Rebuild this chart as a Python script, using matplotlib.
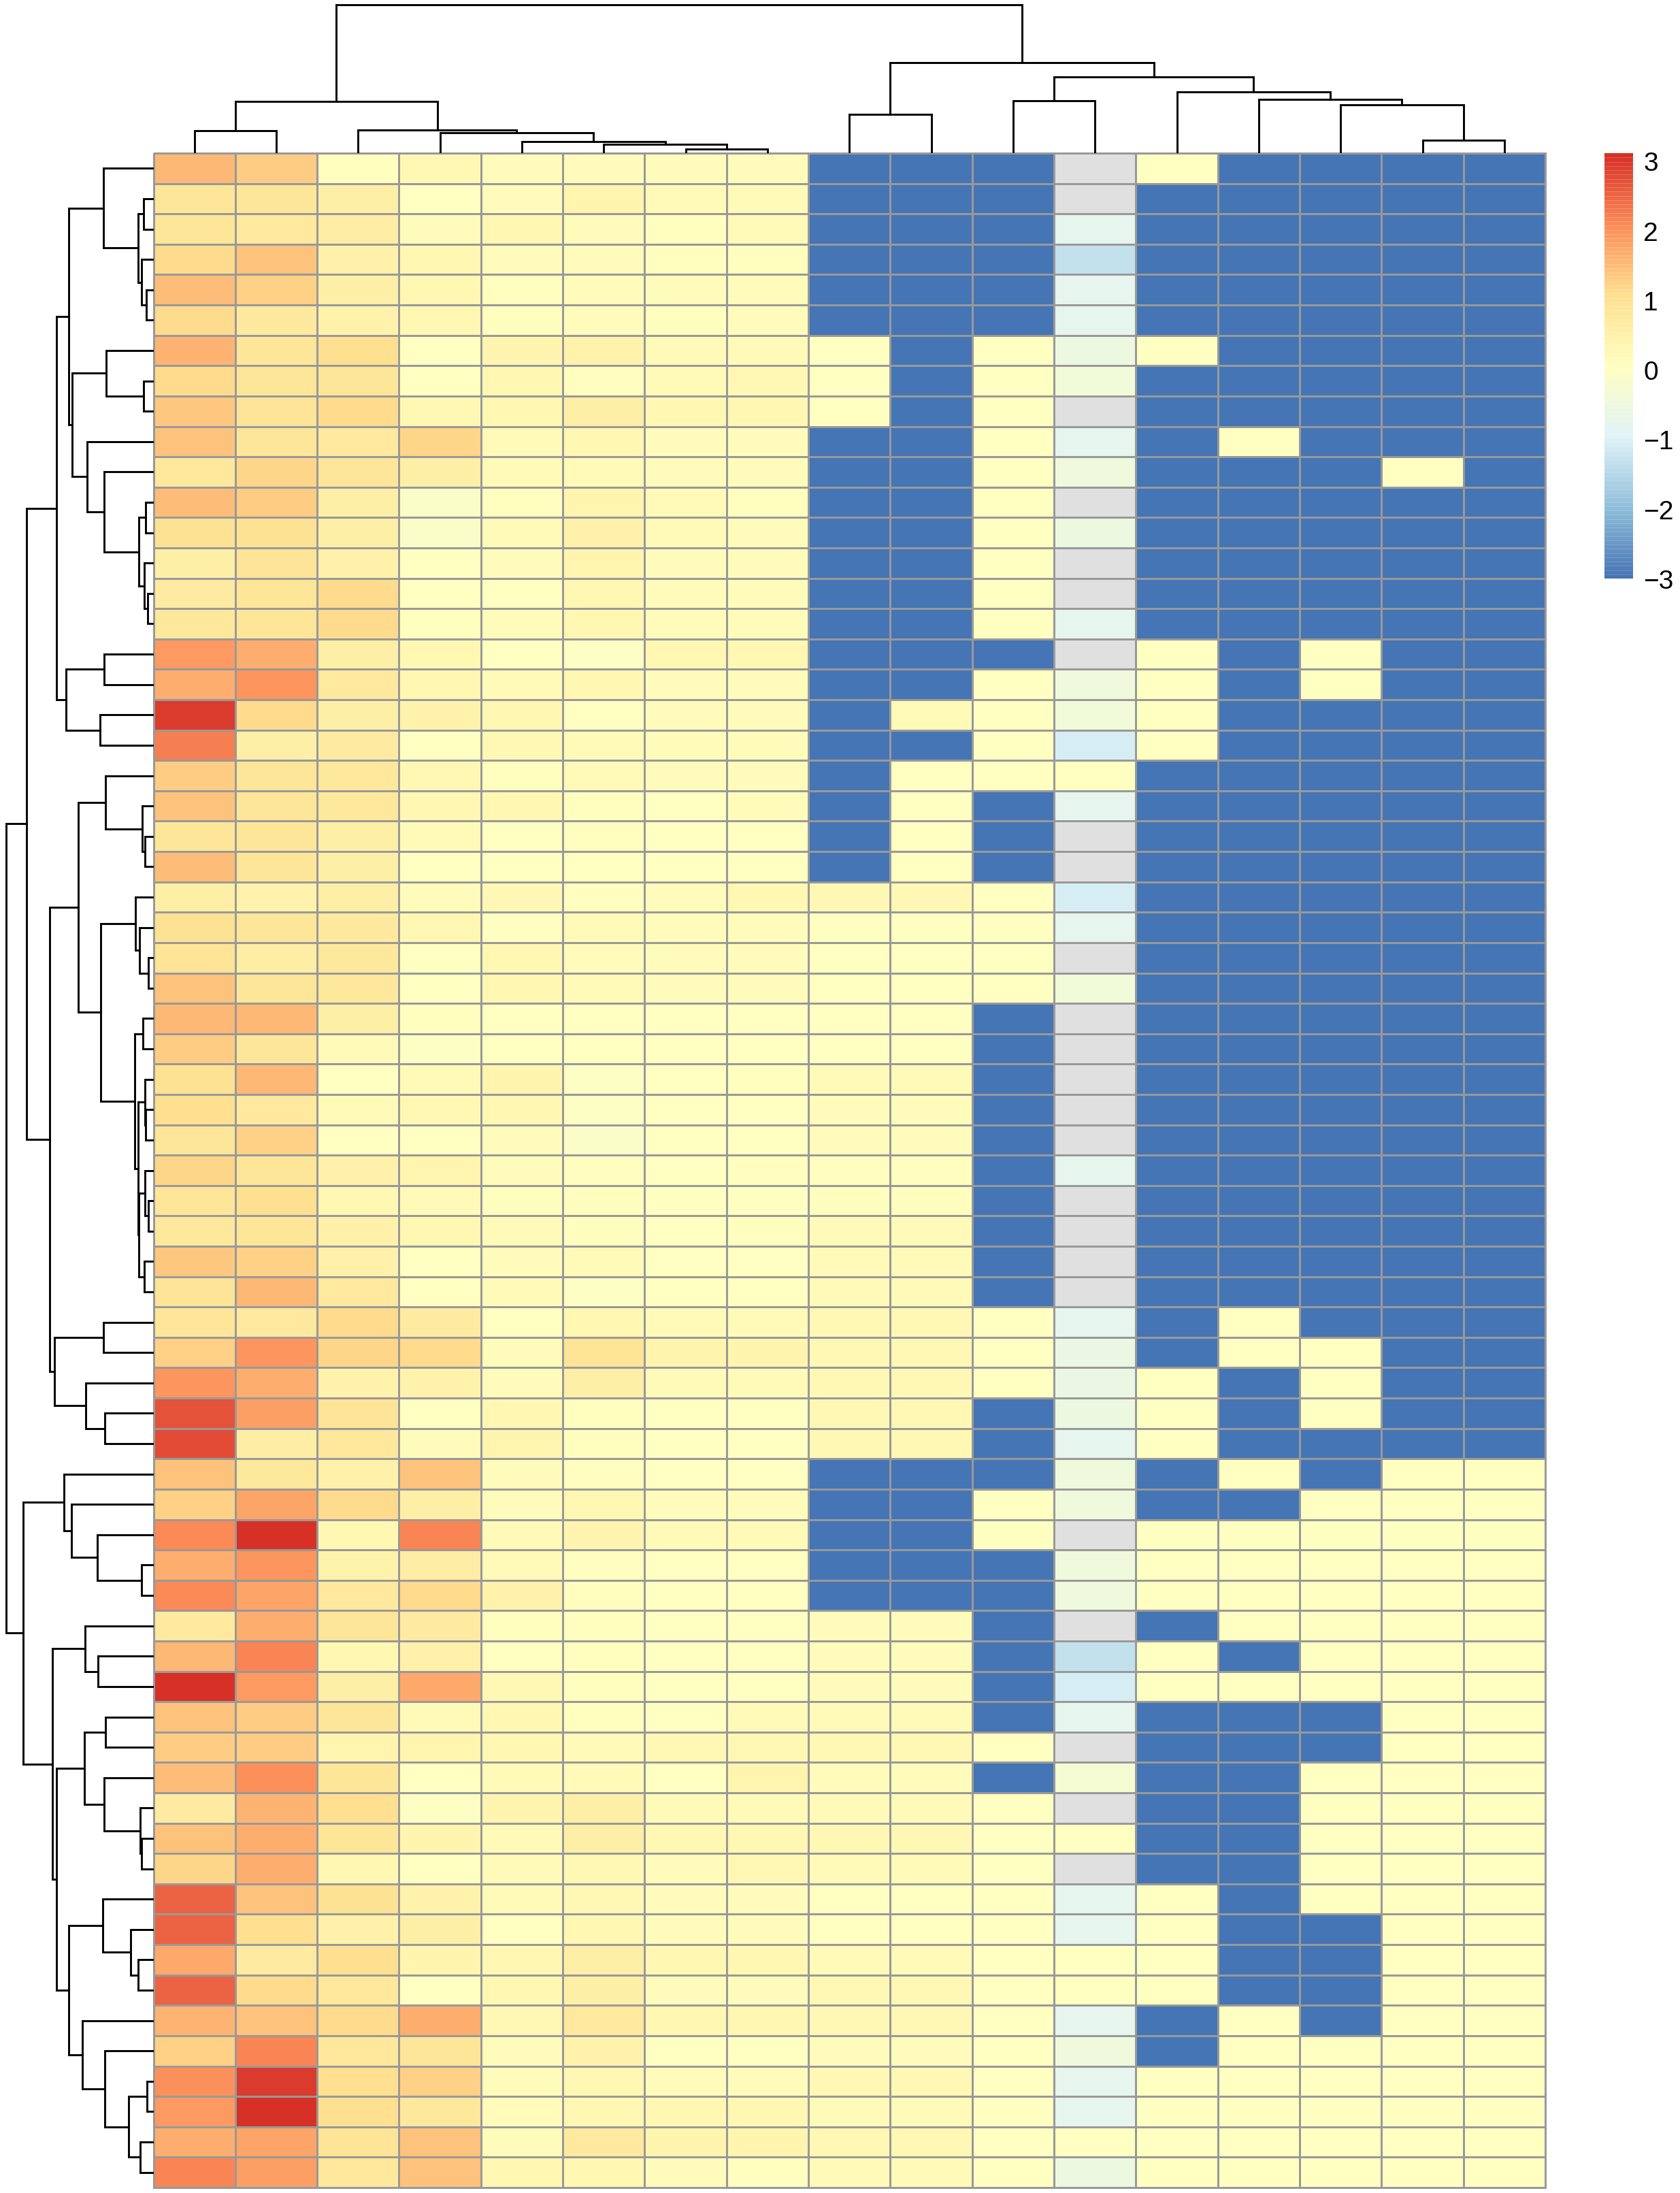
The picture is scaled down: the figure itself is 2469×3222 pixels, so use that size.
import numpy as np
import matplotlib
matplotlib.use("Agg")
import matplotlib.pyplot as plt
from matplotlib.colors import LinearSegmentedColormap, Normalize

plt.rcParams["font.family"] = ["Liberation Sans", "DejaVu Sans"]

W, H = 2469, 3223
nan = float("nan")

# columns 1-8, one line per row
left_block = [
    [1.55, 1.3, 0.1, 0.25, 0.15, 0.12, 0.12, 0.12],
    [0.9, 0.85, 0.55, 0.05, 0.12, 0.4, 0.2, 0.2],
    [0.85, 0.75, 0.65, 0.12, 0.35, 0.12, 0.1, 0.2],
    [1.1, 1.45, 0.5, 0.3, 0.12, 0.12, 0.1, 0.1],
    [1.5, 1.25, 0.55, 0.35, 0.1, 0.12, 0.12, 0.12],
    [1.1, 0.75, 0.45, 0.3, 0.1, 0.12, 0.1, 0.12],
    [1.6, 0.9, 1.05, 0.05, 0.4, 0.45, 0.2, 0.2],
    [1.15, 0.9, 0.9, 0.05, 0.35, 0.1, 0.18, 0.25],
    [1.35, 0.95, 1.15, 0.25, 0.35, 0.55, 0.3, 0.3],
    [1.45, 0.9, 0.75, 1.2, 0.18, 0.3, 0.15, 0.15],
    [0.8, 1.2, 0.85, 0.55, 0.2, 0.2, 0.12, 0.12],
    [1.5, 1.3, 0.6, -0.1, 0.08, 0.4, 0.18, 0.08],
    [1.0, 1.0, 0.6, -0.1, 0.2, 0.5, 0.18, 0.12],
    [0.6, 0.95, 0.5, 0.05, 0.15, 0.4, 0.15, 0.12],
    [0.7, 0.9, 1.1, 0.03, 0.03, 0.35, 0.15, 0.12],
    [0.8, 0.9, 1.1, 0.1, 0.15, 0.3, 0.15, 0.12],
    [1.9, 1.7, 0.55, 0.3, 0.05, -0.05, 0.35, 0.35],
    [1.7, 1.95, 0.75, 0.35, 0.2, 0.35, 0.15, 0.15],
    [2.95, 1.15, 0.55, 0.45, 0.3, 0.05, 0.15, 0.15],
    [2.25, 0.55, 0.7, 0.03, 0.25, 0.2, 0.15, 0.15],
    [1.3, 0.9, 0.8, 0.25, 0.08, 0.2, 0.15, 0.15],
    [1.4, 0.9, 0.8, 0.35, 0.3, 0.08, 0.05, 0.15],
    [0.9, 0.85, 0.6, 0.2, 0.05, 0.08, 0.05, 0.05],
    [1.5, 0.9, 0.55, 0.05, 0.03, 0.05, 0.03, 0.05],
    [0.55, 0.45, 0.6, 0.12, 0.25, 0.1, 0.12, 0.3],
    [1.0, 0.85, 0.75, 0.35, 0.03, 0.2, 0.15, 0.12],
    [0.95, 0.65, 0.8, 0.0, 0.3, 0.15, 0.15, 0.12],
    [1.4, 0.9, 0.8, 0.05, 0.3, 0.2, 0.15, 0.12],
    [1.55, 1.55, 0.6, 0.08, 0.05, 0.05, 0.05, 0.05],
    [1.3, 0.85, 0.2, -0.05, 0.05, 0.05, 0.05, 0.03],
    [1.0, 1.55, 0.05, 0.2, 0.4, -0.05, 0.05, 0.1],
    [1.05, 0.75, 0.2, 0.25, 0.3, -0.05, 0.05, 0.05],
    [0.85, 1.25, 0.0, 0.05, 0.15, -0.08, 0.05, 0.05],
    [1.2, 0.85, 0.5, 0.4, 0.12, 0.08, 0.05, 0.1],
    [0.85, 1.05, 0.3, 0.2, 0.1, 0.08, 0.05, 0.05],
    [0.8, 0.85, 0.5, 0.35, 0.2, 0.08, 0.05, 0.1],
    [1.35, 1.25, 0.5, 0.03, 0.15, 0.2, 0.05, 0.05],
    [0.95, 1.55, 0.75, 0.03, 0.2, -0.03, 0.05, 0.05],
    [0.9, 0.75, 1.15, 0.7, 0.0, 0.3, 0.2, 0.2],
    [1.25, 1.95, 1.2, 1.15, 0.15, 0.95, 0.4, 0.4],
    [2.0, 1.65, 0.45, 0.45, 0.15, 0.55, 0.2, 0.2],
    [2.7, 1.85, 0.95, 0.0, 0.35, 0.1, 0.05, 0.05],
    [2.8, 0.65, 0.8, 0.15, 0.4, 0.08, 0.05, 0.05],
    [1.45, 0.8, 0.5, 1.45, 0.15, 0.1, 0.05, 0.03],
    [1.25, 1.8, 1.1, 0.55, 0.15, 0.3, 0.15, 0.15],
    [2.1, 3.1, 0.3, 2.15, 0.2, 0.4, 0.2, 0.2],
    [1.7, 1.95, 0.45, 0.65, 0.18, 0.08, 0.05, 0.05],
    [2.1, 1.8, 0.75, 1.15, 0.45, 0.08, 0.05, 0.05],
    [0.75, 1.7, 0.85, 0.7, 0.1, 0.1, 0.05, 0.05],
    [1.55, 2.15, 0.35, 0.5, 0.03, 0.08, 0.05, 0.05],
    [3.1, 1.9, 0.6, 1.75, 0.25, 0.08, 0.05, 0.05],
    [1.4, 1.3, 0.85, 0.2, 0.3, 0.08, 0.05, 0.2],
    [1.3, 1.3, 0.4, 0.4, 0.35, 0.2, 0.25, 0.25],
    [1.5, 2.05, 0.85, 0.0, 0.2, 0.2, 0.05, 0.4],
    [0.7, 1.6, 1.05, -0.05, 0.4, 0.6, 0.2, 0.2],
    [1.45, 1.65, 0.9, 0.4, 0.2, 0.55, 0.3, 0.3],
    [1.2, 1.7, 0.3, 0.03, 0.2, 0.25, 0.15, 0.25],
    [2.55, 1.4, 1.0, 0.45, 0.2, 0.25, 0.15, 0.15],
    [2.55, 1.05, 0.5, 0.6, 0.03, 0.35, 0.15, 0.15],
    [1.75, 0.7, 1.05, 0.4, 0.3, 0.6, 0.3, 0.3],
    [2.55, 1.15, 0.8, 0.03, 0.3, 0.55, 0.15, 0.15],
    [1.6, 1.45, 1.15, 1.7, 0.25, 0.75, 0.35, 0.35],
    [1.25, 2.15, 0.8, 0.85, 0.15, 0.45, 0.05, 0.05],
    [2.05, 2.95, 1.05, 1.25, 0.12, 0.35, 0.12, 0.12],
    [1.9, 3.1, 1.05, 0.8, 0.15, 0.3, 0.3, 0.3],
    [1.7, 1.8, 0.95, 1.45, 0.12, 0.75, 0.4, 0.4],
    [2.15, 1.85, 0.8, 1.45, 0.35, 0.35, 0.15, 0.1],
]

# columns 9 and 10 (-3 is the clipped blue)
col9 = [-3, -3, -3, -3, -3, -3, 0.05, 0.05, 0.05, -3, -3, -3, -3, -3, -3, -3,
        -3, -3, -3, -3, -3, -3, -3, -3, 0.25, 0.05, 0.05, 0.05, 0.05, 0.05,
        0.2, 0.15, 0.15, 0.1, 0.08, 0.2, 0.2, 0.2, 0.25, 0.25, 0.25, 0.25, 0.25,
        -3, -3, -3, -3, -3, 0.15, 0.15, 0.15, 0.2, 0.25, 0.15, 0.2, 0.25, 0.2,
        0.05, 0.05, 0.2, 0.25, 0.25, 0.15, 0.25, 0.2, 0.25, 0.2]
col10 = [-3, -3, -3, -3, -3, -3, -3, -3, -3, -3, -3, -3, -3, -3, -3, -3,
         -3, -3, 0.2, -3, 0.05, 0.05, 0.05, 0.05, 0.25, 0.05, 0.05, 0.05, 0.05, 0.05,
         0.2, 0.15, 0.15, 0.1, 0.08, 0.2, 0.2, 0.2, 0.25, 0.25, 0.25, 0.25, 0.25,
         -3, -3, -3, -3, -3, 0.15, 0.15, 0.15, 0.2, 0.25, 0.15, 0.2, 0.25, 0.2,
         0.05, 0.05, 0.2, 0.25, 0.25, 0.15, 0.25, 0.2, 0.25, 0.2]

# B = -3, Y = 0.05
col11 = ("BBBBBB" "YYYYYYYYYY" "B" "YYYY" "BBB" "YYYY" "BBBBBBBBBB" "YYY" "BB"
         "B" "YY" "BB" "BBBB" "Y" "B" "YYYYYYYYYYYYY")

# column 12 has missing cells (grey)
col12 = [nan, nan, -0.8, -1.35, -0.8, -0.8, -0.5, -0.4, nan, -0.8, -0.45, nan, -0.5,
         nan, nan, -0.8, nan, -0.45, -0.4, -1.05, 0.05, -0.8, nan, nan, -1.05, -0.8,
         nan, -0.4, nan, nan, nan, nan, nan, -0.8, nan, nan, nan, nan, -0.8, -0.6,
         -0.6, -0.5, -0.8, -0.45, -0.45, nan, -0.45, -0.45, nan, -1.35, -1.05, -0.8,
         nan, -0.3, nan, 0.05, nan, -0.8, -0.8, 0.05, 0.05, -0.8, -0.45, -0.8, -0.8,
         0.05, -0.5]

# columns 13-17
right_block = [
    "YBBBB", "BBBBB", "BBBBB", "BBBBB", "BBBBB", "BBBBB", "YBBBB", "BBBBB", "BBBBB",
    "BYBBB", "BBBYB", "BBBBB", "BBBBB", "BBBBB", "BBBBB", "BBBBB", "YBYBB", "YBYBB",
    "YBBBB", "YBBBB", "BBBBB", "BBBBB", "BBBBB", "BBBBB", "BBBBB", "BBBBB", "BBBBB",
    "BBBBB", "BBBBB", "BBBBB", "BBBBB", "BBBBB", "BBBBB", "BBBBB", "BBBBB", "BBBBB",
    "BBBBB", "BBBBB", "BYBBB", "BYYBB", "YBYBB", "YBYBB", "YBBBB", "BYBYY", "BBYYY",
    "YYYYY", "YYYYY", "YYYYY", "BYYYY", "YBYYY", "YYYYY", "BBBYY", "BBBYY", "BBYYY",
    "BBYYY", "BBYYY", "BBYYY", "YBYYY", "YBBYY", "YBBYY", "YBBYY", "BYBYY", "BYYYY",
    "YYYYY", "YYYYY", "YYYYY", "YYYYY",
]

# dendrograms as (height, child, child), an int child is a leaf (1-based)
rows_a = (125, (74, 1, (23, (15, 2, 3), (18, 4, (11, 5, 6)))),
          (120, (70, 7, (15, 8, 9)),
           (98, 10, (73, 11, (22, (12, 12, 13), (14, 14, (9, 15, 16)))))))
rows_b = (129, (73, 17, 18), (79, 19, 20))
rows_c = (111, (71, 21, (17, 22, (13, 23, 24))),
          (78, (27, 25, (21, 26, (8, 27, 28))),
           (28, (16, 29, 30),
            (23, (13, 31, (12, 32, 33)),
             (22, (13, 34, (8, 35, 36)), (14, 37, 38))))))
rows_d = (146, (74, 39, 40), (100, 41, (72, 42, 43)))
rows_e = (132, 44, (121, 45, (83, 46, (18, 47, 48))))
rows_f = (149, (101, 49, (82, 50, 51)),
          (143, (102, (71, 52, 53), (73, 54, (20, 55, (18, 56, 57)))),
           (125, (75, 58, (34, 59, (23, 60, 61))),
            (105, 62, (72, 63, (37, (10, 64, 65), (20, 66, 67)))))))
row_tree = (217, (187, (143, rows_a, rows_b), (153, rows_c, rows_d)),
            (192, rows_e, rows_f))

cols_a = (76, (33, 1, 2), (34, 3, (30, 4, (17, 5, (13, 6, (6, 7, 8))))))
cols_b = (133, (57, 9, 10),
          (112, (77, 11, 12), (90, 13, (79, 14, (71, 15, (19, 16, 17))))))
col_tree = (218, cols_a, cols_b)

tick_values = [-3, -2, -1, 0, 1, 2, 3]
palette = ["#4575b4", "#91bfdb", "#e0f3f8", "#ffffbf", "#fee090", "#fc8d59", "#d73027"]


def to_value(c):
    return -3 if c == "B" else 0.05


matrix = np.column_stack([
    np.array(left_block),
    np.array(col9),
    np.array(col10),
    np.array([to_value(c) for c in col11]),
    np.array(col12),
    np.array([[to_value(c) for c in r] for r in right_block]),
])
n_rows, n_cols = matrix.shape


def axes_px(left, top, right, bottom):
    return fig.add_axes([left / W, 1 - bottom / H, (right - left) / W, (bottom - top) / H])


def draw_tree(ax, node, horizontal):
    # returns (leaf position, height) of the node
    if isinstance(node, int):
        return node - 0.5, 0
    h, a, b = node
    pa, ha = draw_tree(ax, a, horizontal)
    pb, hb = draw_tree(ax, b, horizontal)
    if horizontal:
        ax.plot([ha, h, h, hb], [pa, pa, pb, pb], color="black", lw=2.1, solid_joinstyle="miter")
    else:
        ax.plot([pa, pa, pb, pb], [ha, h, h, hb], color="black", lw=2.1, solid_joinstyle="miter")
    return (pa + pb) / 2, h


fig = plt.figure(figsize=(W / 100, H / 100), dpi=100, facecolor="white")

cmap = LinearSegmentedColormap.from_list("rdylbu", palette, N=100)
cmap.set_bad("#e0e0e0")
norm = Normalize(vmin=-3, vmax=3.11)

# heatmap
HM_L, HM_T, HM_R, HM_B = 225.5, 226, 2271, 3215
ax = axes_px(HM_L, HM_T, HM_R, HM_B)
mesh = ax.pcolormesh(np.arange(n_cols + 1), np.arange(n_rows + 1), np.ma.masked_invalid(matrix),
                     cmap=cmap, norm=norm, edgecolors="#999999", linewidth=2.0)
ax.set_xlim(0, n_cols)
ax.set_ylim(n_rows, 0)
ax.axis("off")
for artist in ax.collections:
    artist.set_clip_on(False)

# row dendrogram
ax_left = axes_px(0, HM_T, HM_L, HM_B)
draw_tree(ax_left, row_tree, True)
ax_left.set_xlim(HM_L, 0)
ax_left.set_ylim(n_rows, 0)
ax_left.axis("off")

# column dendrogram
ax_top = axes_px(HM_L, 0, HM_R, HM_T)
draw_tree(ax_top, col_tree, False)
ax_top.set_xlim(0, n_cols)
ax_top.set_ylim(0, HM_T)
ax_top.axis("off")

# legend
cax = axes_px(2358, 226, 2400, 851)
cb = fig.colorbar(mesh, cax=cax, drawedges=True)
cb.outline.set_visible(False)
cb.dividers.set_color("white")
cb.dividers.set_alpha(0.25)
cb.dividers.set_linewidth(0.5)
cb.set_ticks(tick_values)
cax.tick_params(length=0, labelsize=28, pad=11)

fig.savefig("out.png", dpi=100, facecolor="white")
